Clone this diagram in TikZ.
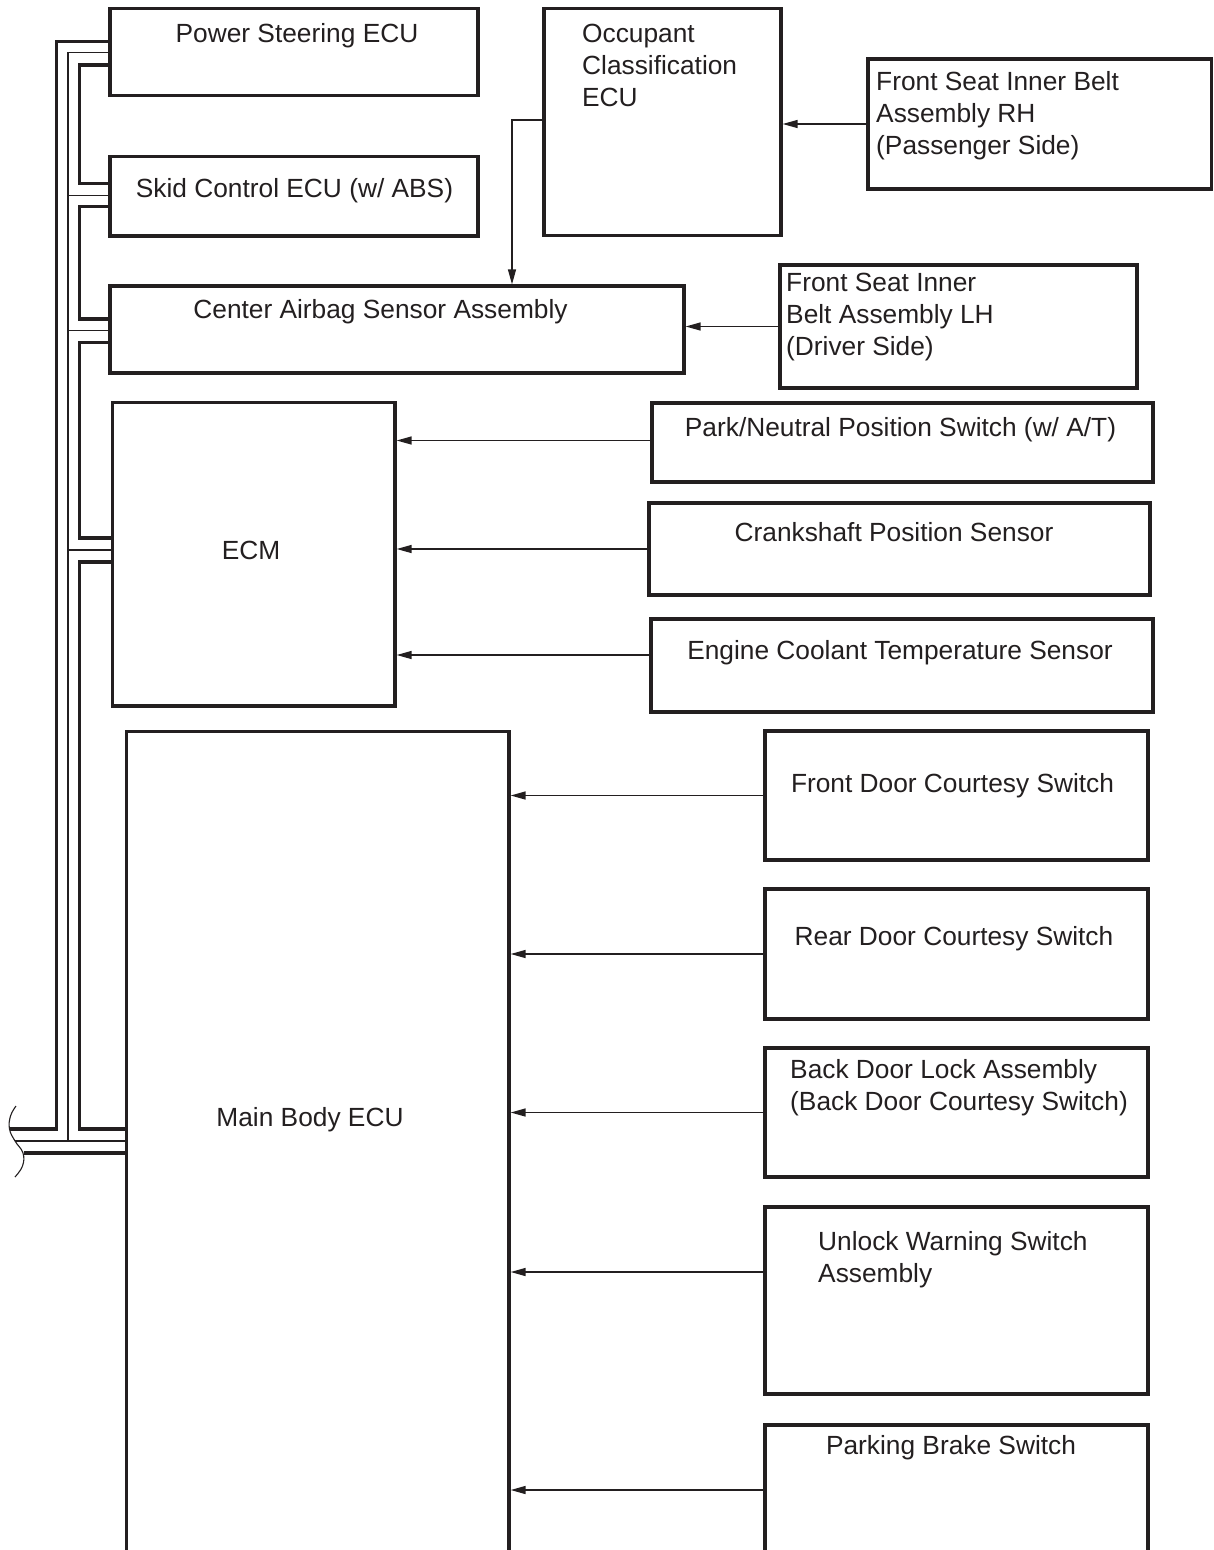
\documentclass[tikz,border=0pt]{standalone}
\usepackage{fontspec}
\setmainfont{Liberation Sans}
\usetikzlibrary{arrows.meta,calc}
\definecolor{ink}{RGB}{35,31,32}
\newcommand{\mlines}[1]{\begin{tabular}[t]{@{}l@{}}#1\end{tabular}}
\begin{document}
\begin{tikzpicture}[x=1pt,y=-1pt,
  box/.style={draw=ink, line width=3.3pt, inner sep=0pt, outer sep=1.65pt},
  txt/.style={inner sep=0pt, text=ink, font=\fontsize{26.3}{32}\selectfont, anchor=base},
  ltxt/.style={txt, anchor=base west},
  arr/.style={draw=ink, line width=1.4pt, -{Triangle[length=15pt,width=8pt]}},
  busthick/.style={draw=ink, line width=3.3pt},
  busthin/.style={draw=ink, line width=1.3pt},
  brk/.style={draw=ink, line width=1.1pt}]
\useasboundingbox (0,0) rectangle (1214,1550);
\clip (0,0) rectangle (1214,1550);
\fill[white] (0,0) rectangle (1214,1550);

% boxes
\node[box, minimum width=368pt, minimum height=87pt] (ps) at (294,52) {};
\node[box, minimum width=368pt, minimum height=79.5pt] (sk) at (294,196.25) {};
\node[box, minimum width=237pt, minimum height=227pt] (occ) at (662.5,122) {};
\node[box, minimum width=343.5pt, minimum height=130pt] (rh) at (1039.75,124) {};
\node[box, minimum width=574pt, minimum height=87pt] (cas) at (397,329.5) {};
\node[box, minimum width=357pt, minimum height=123pt] (lh) at (958.5,326.5) {};
\node[box, minimum width=282.3pt, minimum height=303.3pt] (ecm) at (253.85,554.35) {};
\node[box, minimum width=501pt, minimum height=79pt] (pn) at (902.5,442.5) {};
\node[box, minimum width=501pt, minimum height=92pt] (cps) at (899.5,549) {};
\node[box, minimum width=502pt, minimum height=93pt] (ect) at (902,665.5) {};
\node[box, minimum width=382.3pt, minimum height=838.3pt] (mb) at (317.85,1150.85) {};
\node[box, minimum width=383pt, minimum height=129pt] (fd) at (956.5,795.5) {};
\node[box, minimum width=383pt, minimum height=130pt] (rd) at (956.5,954) {};
\node[box, minimum width=383pt, minimum height=129pt] (bd) at (956.5,1112.5) {};
\node[box, minimum width=383pt, minimum height=187pt] (uw) at (956.5,1300.5) {};
\node[box, minimum width=383pt, minimum height=130pt] (pb) at (956.5,1490) {};

% texts
\node[txt] (tps) at (297,42.5) {Power Steering ECU};
\node[txt] (tsk) at (294.5,197.5) {Skid Control ECU (w/ ABS)};
\node[ltxt] (tocc) at (582,42.5) {\mlines{Occupant\\Classification\\ECU}};
\node[ltxt] (trh) at (876,90.5) {\mlines{Front Seat Inner Belt\\Assembly RH\\(Passenger Side)}};
\node[txt] (tcas) at (380.5,318.5) {Center Airbag Sensor Assembly};
\node[ltxt] (tlh) at (786,291.5) {\mlines{Front Seat Inner\\Belt Assembly LH\\(Driver Side)}};
\node[txt] (tecm) at (251,559.5) {ECM};
\node[txt] (tpn) at (900.5,436.5) {Park/Neutral Position Switch (w/ A/T)};
\node[txt] (tcps) at (894,541.5) {Crankshaft Position Sensor};
\node[txt] (tect) at (900,659.5) {Engine Coolant Temperature Sensor};
\node[txt] (tmb) at (310,1126.5) {Main Body ECU};
\node[txt] (tfd) at (952.5,792.5) {Front Door Courtesy Switch};
\node[txt] (trd) at (954,945.5) {Rear Door Courtesy Switch};
\node[ltxt] (tbd) at (790,1078.5) {\mlines{Back Door Lock Assembly\\(Back Door Courtesy Switch)}};
\node[ltxt] (tuw) at (818,1250.5) {\mlines{Unlock Warning Switch\\Assembly}};
\node[txt] (tpb) at (951,1454.5) {Parking Brake Switch};

% arrows
\draw[arr] (rh.west) -- (rh.west -| occ.east);
\draw[arr] ([yshift=2pt]occ.west) -| ([xshift=115pt]cas.north);
\draw[arr] (lh.west) -- (lh.west -| cas.east);
\draw[arr] ([yshift=2pt]pn.west) -- ([yshift=2pt]pn.west -| ecm.east);
\draw[arr] (cps.west) -- (cps.west -| ecm.east);
\draw[arr] ([yshift=10.5pt]ect.west) -- ([yshift=10.5pt]ect.west -| ecm.east);
\draw[arr] (fd.west) -- (fd.west -| mb.east);
\draw[arr] (rd.west) -- (rd.west -| mb.east);
\draw[arr] (bd.west) -- (bd.west -| mb.east);
\draw[arr] ([yshift=28.5pt]uw.west) -- ([yshift=28.5pt]uw.west -| mb.east);
\draw[arr] (pb.west) -- (pb.west -| mb.east);

% bus: outer thick line
\coordinate (cutA) at (10,1129);
\coordinate (cutB) at (15,1141);
\coordinate (cutC) at (23.5,1153);
\draw[busthick] (ps.west |- 0,41.7) -- (56.5,41.7) -- (56.5,1129) -- (cutA);
% bus: middle thin line
\draw[busthin] (ps.west |- 0,52.8) -- (68,52.8) -- (68,1141);
\draw[busthin] (68,195.7) -- (sk.west |- 0,195.7);
\draw[busthin] (68,330.5) -- (cas.west |- 0,330.5);
\draw[busthin] (68,550) -- (ecm.west |- 0,550);
\draw[busthin] (cutB) -- (mb.west |- cutB);
% bus: inner thick line
\draw[busthick] (ps.west |- 0,65) -- (79.3,65) -- (79.3,183.3) -- (sk.west |- 0,183.3);
\draw[busthick] (sk.west |- 0,206.7) -- (79.3,206.7) -- (79.3,319) -- (cas.west |- 0,319);
\draw[busthick] (cas.west |- 0,342.5) -- (79.3,342.5) -- (79.3,538) -- (ecm.west |- 0,538);
\draw[busthick] (ecm.west |- 0,562) -- (79.3,562) -- (79.3,1129) -- (mb.west |- 0,1129);
\draw[busthick] (cutC) -- (mb.west |- cutC);
% break mark
\draw[brk] plot[smooth, tension=0.7] coordinates {(16,1106) (10.5,1116) (9.5,1129) (15,1141) (23,1153) (22.5,1166) (15,1177)};
\end{tikzpicture}
\end{document}
